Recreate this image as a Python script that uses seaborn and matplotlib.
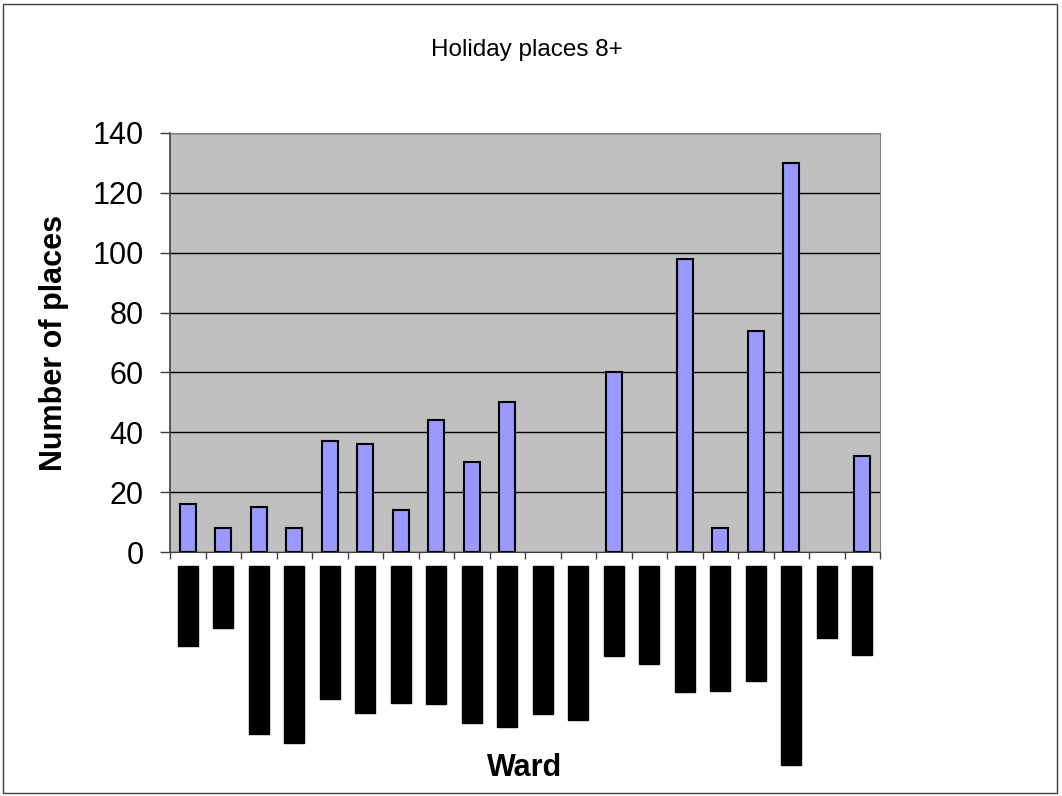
import numpy as np
import pandas as pd
import matplotlib
matplotlib.use("Agg")
import matplotlib.pyplot as plt
from matplotlib.ticker import FixedLocator, MultipleLocator
import seaborn as sns

# %% data (ward names are unreadable in the source, placeholders of similar length)
wards = ["Ashgate", "Abbey", "Upper Millfield Rd", "Eastgate Meadows", "Church Lanes",
         "Westfield Parks", "Riverside Hills", "Kingsway Vale", "Forest Heights E",
         "Brook Vales East", "Stonebridge Rd", "Hillcrest Manors", "Old Town",
         "Southgate", "Meadow Rise", "Grange Road", "Parkside Rd", "Greenhill & Oakwood",
         "Castles", "The Dells"]
places = [16, 8, 15, 8, 37, 36, 14, 44, 30, 50, 0, 0, 60, 0, 98, 8, 74, 130, 0, 32]

df = pd.DataFrame({"ward": wards, "places": places})

# %% plot
sns.set_style("white")
plt.rcParams["font.family"] = ["Liberation Sans", "DejaVu Sans"]
plt.rcParams["text.color"] = "black"
plt.rcParams["axes.labelcolor"] = "black"
plt.rcParams["ytick.labelcolor"] = "black"

fig = plt.figure(figsize=(10.62, 7.96), dpi=100)
ax = fig.add_axes([170 / 1062, 244 / 796, 710 / 1062, 419 / 796])

sns.barplot(data=df, x="ward", y="places", color="#9999FF", edgecolor="black",
            linewidth=1.5, width=0.45, saturation=1, ax=ax)
# empty wards show no bar at all
for p in ax.patches:
    if p.get_height() == 0:
        p.set_visible(False)

ax.set_facecolor("#C0C0C0")
ax.set_xlim(-0.5, len(wards) - 0.5)
ax.set_ylim(0, 140)
ax.yaxis.set_major_locator(MultipleLocator(20))
ax.grid(axis="y", color="black", linewidth=1)
ax.set_axisbelow(True)

for side in ["top", "right"]:
    ax.spines[side].set_color("#808080")
for side in ["left", "bottom"]:
    ax.spines[side].set_color("#404040")
ax.spines["left"].set_linewidth(1.2)

ax.xaxis.set_minor_locator(FixedLocator(np.arange(-0.5, len(wards), 1)))
ax.tick_params(axis="x", which="major", length=0, pad=11)
ax.tick_params(axis="x", which="minor", length=5, width=1, color="#404040", direction="out", bottom=True)
ax.tick_params(axis="y", length=7, width=1, color="#404040", direction="out", left=True,
               labelsize=22, pad=12)

ax.set_xticks(range(len(wards)))
ax.set_xticklabels(wards, rotation=90, fontsize=14, fontweight="bold", color="black", va="top")
for t in ax.get_xticklabels():
    t.set_bbox(dict(facecolor="black", edgecolor="black", pad=1))

ax.set_ylabel("Number of places", fontsize=22, fontweight="bold", labelpad=17)
ax.set_xlabel("")
fig.text(525 / 1062, 1 - 768 / 796, "Ward", fontsize=22, fontweight="bold", ha="center", va="center")
fig.text(527 / 1062, 1 - 50 / 796, "Holiday places 8+", fontsize=17.5, ha="center", va="center")

fig.patches.append(plt.Rectangle((3 / 1062, 3 / 796), 1054 / 1062, 789 / 796, transform=fig.transFigure,
                                 fill=False, edgecolor="#404040", linewidth=1))

plt.savefig("out.png", dpi=100)
plt.close()
